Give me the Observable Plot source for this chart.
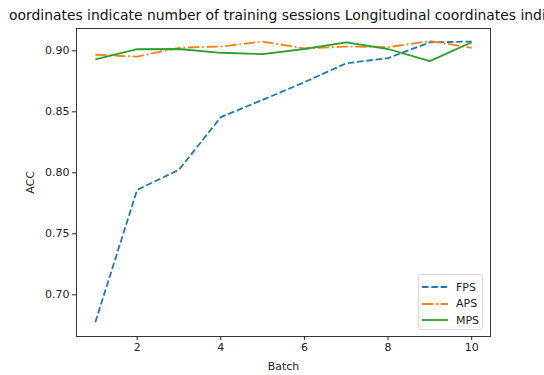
<!DOCTYPE html>
<html>
<head>
<meta charset="utf-8">
<script src="https://cdn.jsdelivr.net/npm/d3@7"></script>
<script src="https://cdn.jsdelivr.net/npm/@observablehq/plot@0.6"></script>
<style>
  html, body { margin: 0; padding: 0; background: #fff; }
  #wrap { position: relative; width: 544px; height: 375px; overflow: hidden; font-family: "DejaVu Sans", sans-serif; }
  #title { position: absolute; left: 0; top: 0; width: 544px; height: 27px; overflow: hidden; clip-path: inset(0 0 0 8px); }
  #title span { position: absolute; left: 0px; top: 7px; white-space: nowrap; font-size: 13.9px; color: #111; }
  #legend { position: absolute; left: 418px; top: 274px; width: 65px; height: 56px; border: 1px solid #d6d6d6; border-radius: 3px; background: rgba(255,255,255,0.85); box-sizing: border-box; }
  #legend .row { position: absolute; left: 3px; height: 14px; display: flex; align-items: center; font-size: 11px; color: #222; }
  #legend svg { width: 26px; height: 6px; margin-right: 8px; }
</style>
</head>
<body>
<div id="wrap">
  <div id="chart"></div>
  <div id="title"><span id="tmain"></span><span id="tmeasure" style="visibility:hidden"></span></div>
  <div id="legend"></div>
</div>
<script>
const titleText = "Horizontal coordinates indicate number of training sessions Longitudinal coordinates indicate accuracy";
const titleHiddenPrefix = "Horizontal c";
const batches = [1, 2, 3, 4, 5, 6, 7, 8, 9, 10];
const fps = [0.6775, 0.786, 0.8025, 0.8456, 0.8598, 0.8743, 0.8898, 0.894, 0.907, 0.9076];
const aps = [0.8968, 0.8953, 0.9025, 0.9035, 0.9076, 0.902, 0.9035, 0.903, 0.908, 0.9025];
const mps = [0.893, 0.9013, 0.9015, 0.8984, 0.8973, 0.9015, 0.907, 0.9015, 0.8915, 0.907];
const seriesNames = ["FPS", "APS", "MPS"];
const xTicks = [2, 4, 6, 8, 10];
const yTicks = [0.70, 0.75, 0.80, 0.85, 0.90];

const colors = {FPS: "#1f77b4", APS: "#ff7f0e", MPS: "#2ca02c"};
const dashes = {FPS: "6.5,2.8", APS: "11.3,2.8,1.8,2.8", MPS: null};
const valuesBy = {FPS: fps, APS: aps, MPS: mps};

// title: the reference shows it wider than the figure, clipped on both sides
const titleSpan = document.getElementById("tmain");
titleSpan.textContent = titleText;
const measure = document.getElementById("tmeasure");
measure.textContent = titleHiddenPrefix;
titleSpan.style.left = (9 - measure.getBoundingClientRect().width) + "px";

const rows = seriesNames.flatMap(s => batches.map((b, i) => ({series: s, batch: b, acc: valuesBy[s][i]})));

const chart = Plot.plot({
  width: 544,
  height: 375,
  marginTop: 28,
  marginBottom: 39,
  marginLeft: 76,
  marginRight: 54,
  style: {fontFamily: "DejaVu Sans, sans-serif", fontSize: "11px", color: "#222", background: "#fff"},
  x: {domain: [0.55, 10.45]},
  y: {domain: [0.6658, 0.9183]},
  marks: [
    Plot.frame({stroke: "#222", strokeWidth: 0.9}),
    Plot.axisX({ticks: xTicks, tickSize: 4, tickPadding: 3, tickFormat: d3.format("d"), label: "Batch", labelAnchor: "center", labelArrow: "none", labelOffset: 33, stroke: "#222"}),
    Plot.axisY({ticks: yTicks, tickSize: 4, tickPadding: 3, tickFormat: d3.format(".2f"), label: "ACC", labelAnchor: "center", labelArrow: "none", labelOffset: 50, stroke: "#222"}),
    ...seriesNames.map(s => Plot.line(rows.filter(r => r.series === s), {
      x: "batch", y: "acc", stroke: colors[s], strokeWidth: 1.8,
      strokeDasharray: dashes[s], strokeLinecap: "butt", strokeLinejoin: "round"
    }))
  ]
});
document.getElementById("chart").appendChild(chart);

const legend = document.getElementById("legend");
seriesNames.forEach((s, i) => {
  const row = document.createElement("div");
  row.className = "row";
  row.style.top = (5 + i * 16.5) + "px";
  const dash = dashes[s] ? `stroke-dasharray="${dashes[s]}"` : "";
  row.innerHTML = `<svg viewBox="0 0 26 6"><line x1="0" y1="3" x2="26" y2="3" stroke="${colors[s]}" stroke-width="1.8" ${dash}/></svg><span>${s}</span>`;
  legend.appendChild(row);
});
</script>
</body>
</html>
